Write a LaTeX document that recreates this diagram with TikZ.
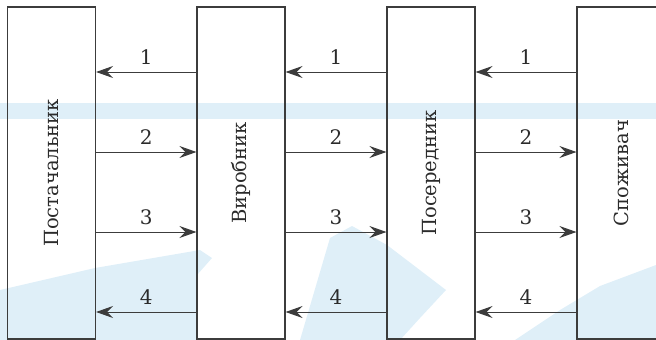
\documentclass[tikz,border=0pt]{standalone}
\usepackage{fontspec}
\setmainfont{DejaVu Serif}
\usetikzlibrary{arrows.meta,calc}
\definecolor{wm}{HTML}{DFEFF8}
\definecolor{ln}{HTML}{3C3C3C}
\definecolor{tx}{HTML}{2B2B2B}
\begin{document}
\begin{tikzpicture}[x=1pt,y=-1pt,
  boxstyle/.style={draw=ln,line width=1.1pt,minimum width=88pt,minimum height=332pt,inner sep=0pt},
  boxtext/.style={rotate=90,text=tx,font=\fontsize{19.5}{22}\selectfont,inner sep=0pt},
  numlbl/.style={text=tx,font=\fontsize{20}{22}\selectfont,inner sep=0pt},
  arrline/.style={draw=ln,line width=1pt,-{Stealth[length=17pt,width=12pt,inset=6pt]}}]
\useasboundingbox (0,0) rectangle (656,340);
\clip (0,0) rectangle (656,340);
% watermark
\fill[wm] (0,103) rectangle (656,119);
\fill[wm] (0,290) -- (95,268) -- (200,250) -- (212,258) -- (197,275) -- (197,340) -- (0,340) -- cycle;
\fill[wm] (300,340) -- (330,238) -- (352,226) -- (387,245) -- (446,290) -- (420,318) -- (400,340) -- cycle;
\fill[wm] (515,340) -- (560,310) -- (600,286) -- (656,265) -- (656,340) -- cycle;
% boxes
\node[boxstyle] (b1) at (51.5,173) {};
\node[boxstyle] (b2) at (241,173) {};
\node[boxstyle] (b3) at (431,173) {};
\node[boxstyle] (b4) at (621,173) {};
\node[boxtext] (t1) at (b1.center) {Постачальник};
\node[boxtext] (t2) at (b2.center) {Виробник};
\node[boxtext] (t3) at (b3.center) {Посередник};
\node[boxtext] (t4) at (b4.center) {Споживач};
% levels
\coordinate (y1) at (0,72);
\coordinate (y2) at (0,152);
\coordinate (y3) at (0,232);
\coordinate (y4) at (0,312);
\foreach \a/\b/\k in {1/2/a,2/3/b,3/4/c}{
  \draw[arrline] (b\b.west |- y1) -- (b\a.east |- y1);
  \draw[arrline] (b\a.east |- y2) -- (b\b.west |- y2);
  \draw[arrline] (b\a.east |- y3) -- (b\b.west |- y3);
  \draw[arrline] (b\b.west |- y4) -- (b\a.east |- y4);
  \foreach \i in {1,2,3,4}{
    \node[numlbl] (n\k\i) at ($($(b\a.east |- y\i)!0.5!(b\b.west |- y\i)$)+(0,-15)$) {\i};
  }
}
\end{tikzpicture}
\end{document}
